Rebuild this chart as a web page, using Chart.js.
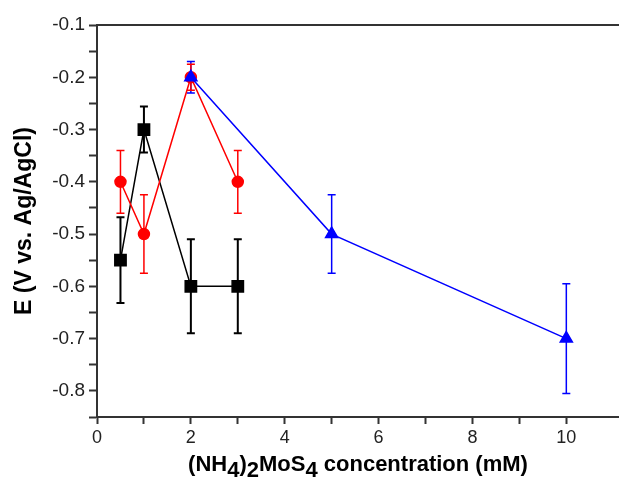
<!DOCTYPE html>
<html>
<head>
<meta charset="utf-8">
<script src="https://cdn.jsdelivr.net/npm/chart.js@4"></script>
<style>
  html, body { margin: 0; padding: 0; background: #fff; }
  #wrap { width: 619px; height: 480px; }
</style>
</head>
<body>
<div id="wrap"><canvas id="c"></canvas></div>
<script>
// concentrations (mM) and potentials (V vs. Ag/AgCl)
const blackX = [0.5, 1, 2, 3];
const blackY = [-0.55, -0.3, -0.6, -0.6];
const blackErr = [0.082, 0.044, 0.09, 0.09];

const redX = [0.5, 1, 2, 3];
const redY = [-0.4, -0.5, -0.2, -0.4];
const redErr = [0.06, 0.075, 0.025, 0.06];

const blueX = [2, 5, 10];
const blueY = [-0.2, -0.5, -0.7];
const blueErr = [0.03, 0.075, 0.105];

const xTicksShown = [0, 2, 4, 6, 8, 10];
const yTicksShown = [-0.1, -0.2, -0.3, -0.4, -0.5, -0.6, -0.7, -0.8];

const FONT = "'Liberation Sans', Arial, sans-serif";

function pts(xs, ys) {
  return xs.map((x, i) => ({ x: x, y: ys[i] }));
}

// error bars, frame lines to the right edge, x title with subscripts
const errorBars = {
  id: "errorBars",
  beforeDatasetsDraw(chart) {
    const ctx = chart.ctx;
    const xs = chart.scales.x, ys = chart.scales.y;
    chart.data.datasets.forEach(ds => {
      ctx.save();
      ctx.strokeStyle = ds.borderColor;
      ctx.lineWidth = ds.errWidth;
      ds.data.forEach((p, i) => {
        const e = ds.errors[i];
        const px = xs.getPixelForValue(p.x);
        const top = ys.getPixelForValue(p.y + e);
        const bot = ys.getPixelForValue(p.y - e);
        ctx.beginPath();
        ctx.moveTo(px, top); ctx.lineTo(px, bot);
        ctx.moveTo(px - 4, top); ctx.lineTo(px + 4, top);
        ctx.moveTo(px - 4, bot); ctx.lineTo(px + 4, bot);
        ctx.stroke();
      });
      ctx.restore();
    });
  },
  afterDraw(chart) {
    const ctx = chart.ctx;
    const a = chart.chartArea;
    ctx.save();
    ctx.strokeStyle = "#333";
    ctx.lineWidth = 2;
    ctx.beginPath();
    ctx.moveTo(a.left, a.top);
    ctx.lineTo(chart.width, a.top);
    ctx.moveTo(a.right - 1, a.bottom);
    ctx.lineTo(chart.width, a.bottom);
    ctx.stroke();

    const parts = [["(NH", 0], ["4", 1], [")", 0], ["2", 1], ["MoS", 0], ["4", 1], [" concentration (mM)", 0]];
    ctx.font = "bold 22px " + FONT;
    ctx.fillStyle = "#000";
    ctx.textBaseline = "alphabetic";
    ctx.textAlign = "left";
    let total = 0;
    parts.forEach(p => { total += ctx.measureText(p[0]).width; });
    let x = (a.left + chart.width) / 2 - total / 2;
    const base = 471;
    parts.forEach(p => {
      ctx.fillText(p[0], x, base + (p[1] ? 6 : 0));
      x += ctx.measureText(p[0]).width;
    });
    ctx.restore();
  }
};

new Chart(document.getElementById("c"), {
  type: "line",
  data: {
    datasets: [
      {
        data: pts(blueX, blueY), errors: blueErr, errWidth: 1.5,
        borderColor: "#0000ff", backgroundColor: "#0000ff", borderWidth: 1.5,
        pointStyle: "triangle", pointRadius: 7, order: 0
      },
      {
        data: pts(redX, redY), errors: redErr, errWidth: 1.5,
        borderColor: "#ff0000", backgroundColor: "#ff0000", borderWidth: 1.5,
        pointStyle: "circle", pointRadius: 5.5, order: 1
      },
      {
        data: pts(blackX, blackY), errors: blackErr, errWidth: 2,
        borderColor: "#000000", backgroundColor: "#000000", borderWidth: 1.5,
        pointStyle: "rect", pointRadius: 8, order: 2
      }
    ]
  },
  options: {
    responsive: true,
    maintainAspectRatio: false,
    animation: false,
    layout: { padding: { top: 25, right: 0, left: 11, bottom: 0 } },
    plugins: { legend: { display: false }, tooltip: { enabled: false } },
    scales: {
      x: {
        type: "linear",
        min: 0, max: 10.92,
        afterFit(s) { s.height = 63; },
        border: { color: "#333", width: 2 },
        grid: { drawOnChartArea: false, drawTicks: true, tickLength: 7, tickColor: "#333", tickWidth: 2 },
        ticks: {
          stepSize: 1, includeBounds: false, autoSkip: false, maxRotation: 0,
          color: "#222", font: { family: FONT, size: 18 }, padding: 3,
          callback: v => xTicksShown.includes(v) ? String(v) : ""
        }
      },
      y: {
        min: -0.85, max: -0.1,
        afterFit(s) { s.width = 86; },
        border: { color: "#333", width: 2 },
        grid: { drawOnChartArea: false, drawTicks: true, tickLength: 8, tickColor: "#333", tickWidth: 2 },
        title: {
          display: true, text: "E (V vs. Ag/AgCl)", color: "#000",
          font: { family: FONT, size: 23, weight: "bold" }, padding: { top: 0, bottom: 0 }
        },
        ticks: {
          stepSize: 0.05, autoSkip: false,
          color: "#222", font: { family: FONT, size: 19 }, padding: 4,
          callback: v => {
            const r = Math.round(v * 10) / 10;
            return (Math.abs(r - v) < 1e-6 && yTicksShown.includes(r)) ? r.toFixed(1) : "";
          }
        }
      }
    }
  },
  plugins: [errorBars]
});
</script>
</body>
</html>
